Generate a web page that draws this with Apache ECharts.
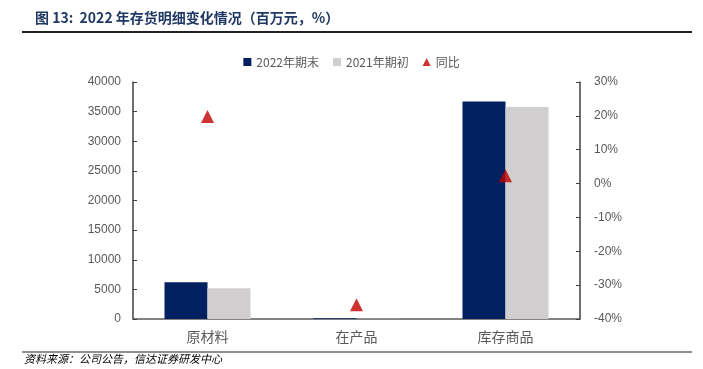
<!DOCTYPE html>
<html>
<head>
<meta charset="utf-8">
<script src="https://cdn.jsdelivr.net/npm/echarts@6/dist/echarts.min.js"></script>
<style>
  html, body { margin: 0; padding: 0; background: #fff; }
  #main { width: 703px; height: 369px; }
</style>
</head>
<body>
<div id="main"></div>
<script>
var categories = ['原材料', '在产品', '库存商品'];
var end2022 = [6200, 120, 36700];
var begin2021 = [5200, 40, 35800];
var yoy = [19.8, -35.8, 2.3];
var leftTicks = [0, 40000, 5000];
var rightTicks = [-40, 30, 10];

var myChart = echarts.init(document.getElementById('main'));
var font = '"Microsoft YaHei", "Noto Sans CJK SC", sans-serif';
var labelStyle = { color: '#595959', fontSize: 12, fontFamily: 'Arial, "Liberation Sans", sans-serif' };

var option = {
    animation: false,
    title: {
        text: '图 13:  2022 年存货明细变化情况（百万元，%）',
        left: 30,
        top: 6,
        textStyle: { color: '#1F3864', fontSize: 14, fontWeight: 'bold', fontFamily: font }
    },
    graphic: [
        { type: 'line', shape: { x1: 22, y1: 32, x2: 692, y2: 32 }, style: { stroke: '#222', lineWidth: 2 } },
        { type: 'line', shape: { x1: 22, y1: 352, x2: 692, y2: 352 }, style: { stroke: '#222', lineWidth: 1.2 } },
        { type: 'text', left: 24, top: 353, style: { text: '资料来源：公司公告，信达证券研发中心', fill: '#000', font: 'italic 11px "Noto Sans CJK SC", sans-serif' } }
    ],
    legend: {
        top: 51,
        left: 'center',
        itemWidth: 8,
        itemHeight: 8,
        itemGap: 14,
        textStyle: { color: '#595959', fontSize: 12, fontFamily: font },
        data: [
            { name: '2022年期末', icon: 'rect' },
            { name: '2021年期初', icon: 'rect' },
            { name: '同比', icon: 'triangle' }
        ]
    },
    grid: { left: 133, right: 123, top: 82, bottom: 50 },
    xAxis: {
        type: 'category',
        data: categories,
        axisLine: { lineStyle: { color: '#595959', width: 1.5 } },
        axisTick: { inside: true, length: 4, lineStyle: { color: '#595959' } },
        axisLabel: { color: '#595959', fontSize: 14, margin: 11, fontFamily: font }
    },
    yAxis: [
        {
            type: 'value',
            min: leftTicks[0], max: leftTicks[1], interval: leftTicks[2],
            splitLine: { show: false },
            axisLine: { show: true, lineStyle: { color: '#404040', width: 1.5 } },
            axisTick: { show: true, inside: true, length: 4, lineStyle: { color: '#404040' } },
            axisLabel: Object.assign({ margin: 12, formatter: function (v) { return String(v); } }, labelStyle)
        },
        {
            type: 'value',
            min: rightTicks[0], max: rightTicks[1], interval: rightTicks[2],
            splitLine: { show: false },
            axisLine: { show: true, lineStyle: { color: '#404040', width: 1.5 } },
            axisTick: { show: true, inside: true, length: 4, lineStyle: { color: '#404040' } },
            axisLabel: Object.assign({ margin: 14, formatter: '{value}%' }, labelStyle)
        }
    ],
    series: [
        {
            name: '2022年期末',
            type: 'bar',
            barWidth: 43,
            barGap: '0%',
            itemStyle: { color: '#002060' },
            data: end2022
        },
        {
            name: '2021年期初',
            type: 'bar',
            barWidth: 43,
            barGap: '0%',
            itemStyle: { color: '#D0CECE' },
            data: begin2021
        },
        {
            name: '同比',
            type: 'scatter',
            yAxisIndex: 1,
            symbol: 'triangle',
            symbolSize: [13, 13],
            itemStyle: { color: '#C00000' },
            data: yoy
        }
    ]
};

option && myChart.setOption(option);
</script>
</body>
</html>
